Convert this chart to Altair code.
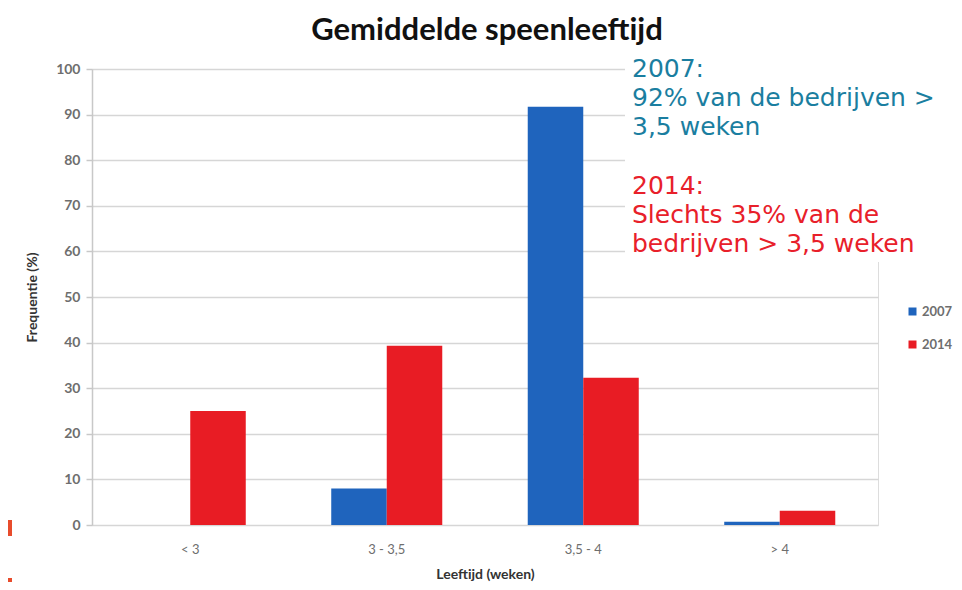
import altair as alt
import pandas as pd

categories = ["< 3", "3 - 3,5", "3,5 - 4", "> 4"]
years = ["2007", "2014"]
values_2007 = [0, 8, 91.7, 0.7]
values_2014 = [25, 39.3, 32.3, 3.1]
colors = ["#1f64bd", "#e81c24"]
title_text = "Gemiddelde speenleeftijd"
note_2007_lines = ["2007:", "92% van de bedrijven >", "3,5 weken"]
note_2014_lines = ["2014:", "Slechts 35% van de", "bedrijven > 3,5 weken"]

rows = []
for c, a, b in zip(categories, values_2007, values_2014):
    rows.append({"cat": c, "year": "2007", "val": a})
    rows.append({"cat": c, "year": "2014", "val": b})
df = pd.DataFrame(rows)

W, H = 786, 456
one = pd.DataFrame({"a": [0]})

bars = alt.Chart(df).mark_bar().encode(
    x=alt.X("cat:N", sort=categories,
            scale=alt.Scale(paddingInner=0.435, paddingOuter=0.2175),
            axis=alt.Axis(title="Leeftijd (weken)", labelAngle=0, ticks=False, domain=False,
                          labelPadding=18, labelFontSize=13, labelColor="#6e6e6e",
                          labelFont="Lato", titleFont="Lato", titleFontSize=14,
                          titleFontWeight="bold", titleColor="#333333",
                          titleY=49, titleBaseline="middle")),
    xOffset=alt.XOffset("year:N", sort=years),
    y=alt.Y("val:Q", scale=alt.Scale(domain=[0, 100]),
            axis=alt.Axis(title="Frequentie (%)", values=list(range(0, 101, 10)),
                          grid=True, gridColor="#d6d6d6", gridWidth=1.5,
                          domain=True, domainColor="#c8c8c8", domainWidth=1.5,
                          ticks=True, tickColor="#c8c8c8", tickSize=6, tickWidth=1.5,
                          labelPadding=6, labelFontSize=14, labelColor="#6e6e6e",
                          labelFont="Lato", labelFontWeight="bold",
                          titleFont="Lato", titleFontSize=14, titleFontWeight="bold",
                          titleColor="#333333", titleX=-60, titleY=228,
                          titleAngle=-90, titleBaseline="middle", titleAlign="center")),
    color=alt.Color("year:N", sort=years,
                    scale=alt.Scale(domain=years, range=colors),
                    legend=alt.Legend(title=None, orient="none", legendX=814, legendY=236,
                                      symbolType="square", symbolSize=64,
                                      symbolStrokeWidth=0, labelFontSize=13,
                                      labelColor="#6e6e6e", labelFont="Lato",
                                      labelFontWeight="bold", rowPadding=19,
                                      labelOffset=3)),
)

cover = alt.Chart(one).mark_rect(color="white").encode(
    x=alt.value(533), x2=alt.value(880), y=alt.value(-17), y2=alt.value(193)
)

title = alt.Chart(one).mark_text(
    align="center", baseline="alphabetic", fontSize=31, font="Lato",
    fontWeight="bold", color="#111111"
).encode(x=alt.value(395), y=alt.value(-29), text=alt.value(title_text))

note_2007 = alt.Chart(one).mark_text(
    align="left", baseline="alphabetic", fontSize=25, font="DejaVu Sans",
    color="#1a7ea0", lineHeight=29
).encode(x=alt.value(540), y=alt.value(8), text=alt.value(note_2007_lines))

note_2014 = alt.Chart(one).mark_text(
    align="left", baseline="alphabetic", fontSize=25, font="DejaVu Sans",
    color="#e8202a", lineHeight=29
).encode(x=alt.value(540), y=alt.value(125), text=alt.value(note_2014_lines))

marks = alt.Chart(pd.DataFrame({"y": [451, 509], "y2": [467, 521]})).mark_rect(color="#e84c2c").encode(
    x=alt.value(-84), x2=alt.value(-80), y=alt.Y("y:Q", scale=None), y2="y2:Q"
)

chart = alt.layer(bars, cover, title, note_2007, note_2014, marks).properties(
    width=W, height=H,
    autosize=alt.AutoSizeParams(type="none"),
    padding={"left": 84, "top": 61, "right": 76, "bottom": 57},
).configure_view(stroke=None).configure(background="white")

chart.save("out.html", embed_options={"renderer": "svg", "actions": False})
